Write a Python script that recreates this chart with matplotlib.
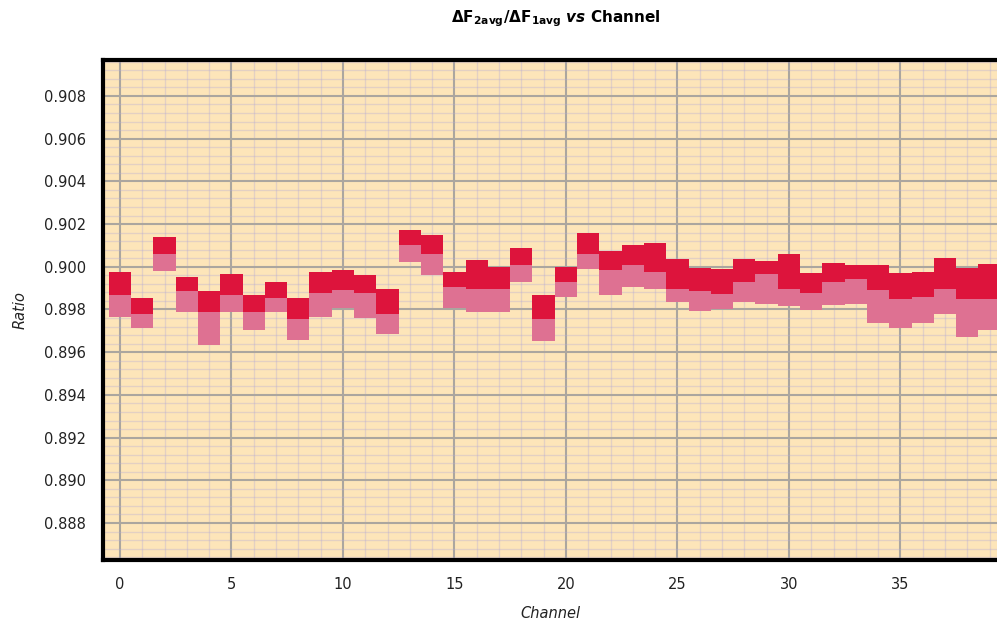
import matplotlib.pyplot as plt
import numpy as np
from matplotlib.ticker import MultipleLocator, FormatStrFormatter

channels = np.arange(40)

# top of dark segment, dark/pink boundary, bottom of pink segment
ratio_high = [
    0.89977, 0.89852, 0.90141, 0.89953, 0.89886, 0.89964, 0.89867, 0.89927,
    0.89852, 0.89977, 0.89983, 0.89961, 0.89896, 0.90172, 0.90148, 0.89977,
    0.90030, 0.90000, 0.90090, 0.89867, 0.90000, 0.90156, 0.90074, 0.90102,
    0.90109, 0.90034, 0.89995, 0.89989, 0.90036, 0.90027, 0.90061, 0.89969,
    0.90019, 0.90008, 0.90008, 0.89969, 0.89977, 0.90042, 0.89992, 0.90011,
]
ratio_mid = [
    0.89870, 0.89778, 0.90059, 0.89886, 0.89786, 0.89870, 0.89786, 0.89852,
    0.89756, 0.89875, 0.89891, 0.89878, 0.89781, 0.90102, 0.90062, 0.89903,
    0.89898, 0.89898, 0.90008, 0.89755, 0.89927, 0.90059, 0.89983, 0.90008,
    0.89977, 0.89898, 0.89886, 0.89874, 0.89927, 0.89966, 0.89898, 0.89878,
    0.89930, 0.89942, 0.89891, 0.89847, 0.89859, 0.89898, 0.89849, 0.89849,
]
ratio_low = [
    0.89763, 0.89711, 0.89980, 0.89786, 0.89633, 0.89786, 0.89702, 0.89786,
    0.89657, 0.89766, 0.89808, 0.89758, 0.89685, 0.90020, 0.89961, 0.89805,
    0.89789, 0.89789, 0.89930, 0.89653, 0.89859, 0.89989, 0.89870, 0.89906,
    0.89898, 0.89836, 0.89793, 0.89802, 0.89833, 0.89824, 0.89817, 0.89797,
    0.89821, 0.89824, 0.89735, 0.89714, 0.89735, 0.89781, 0.89672, 0.89704,
]

hi = np.array(ratio_high)
mid = np.array(ratio_mid)
lo = np.array(ratio_low)

fig = plt.figure(figsize=(9.97, 6.22), dpi=100)
ax = fig.add_axes([0.1033, 0.0997, 0.8967, 0.8038])
ax.set_facecolor("#fde5b9")

ax.bar(channels, mid - lo, bottom=lo, width=1.0, color="#de7192", linewidth=0, zorder=3)
ax.bar(channels, hi - mid, bottom=mid, width=1.0, color="#dd143c", linewidth=0, zorder=3)

ax.set_xlim(-0.76, 39.33)
ax.set_ylim(0.88627, 0.90968)
ax.xaxis.set_major_locator(MultipleLocator(5))
ax.xaxis.set_minor_locator(MultipleLocator(1))
ax.yaxis.set_major_locator(MultipleLocator(0.002))
ax.yaxis.set_minor_locator(MultipleLocator(0.0004))
ax.yaxis.set_major_formatter(FormatStrFormatter("%.3f"))

# minor lines get drawn after the major ones, so keep them translucent
ax.grid(True, which="major", color="#aba69f", linewidth=1.5)
ax.grid(True, which="minor", color="#b4aad7", alpha=0.35, linewidth=1.0)
ax.set_axisbelow(True)

ax.tick_params(which="both", length=0, labelsize=10.5, pad=12, colors="#222222")
for s in ["left", "bottom", "top"]:
    ax.spines[s].set_linewidth(3)
    ax.spines[s].set_color("black")
    ax.spines[s].set_zorder(5)
ax.spines["right"].set_visible(False)

ax.set_xlabel("Channel", fontsize=10.5, style="italic", labelpad=10, color="#222222")
ax.set_ylabel("Ratio", fontsize=10.5, style="italic", labelpad=12, color="#222222")

fig.text(0.557, 0.97, r"$\mathbf{\Delta F_{2avg}/\Delta F_{1avg}}$ $\mathbfit{vs}$ Channel",
         ha="center", va="center", fontsize=11, fontweight="bold")

plt.savefig("out.png", dpi=100)
plt.close()
